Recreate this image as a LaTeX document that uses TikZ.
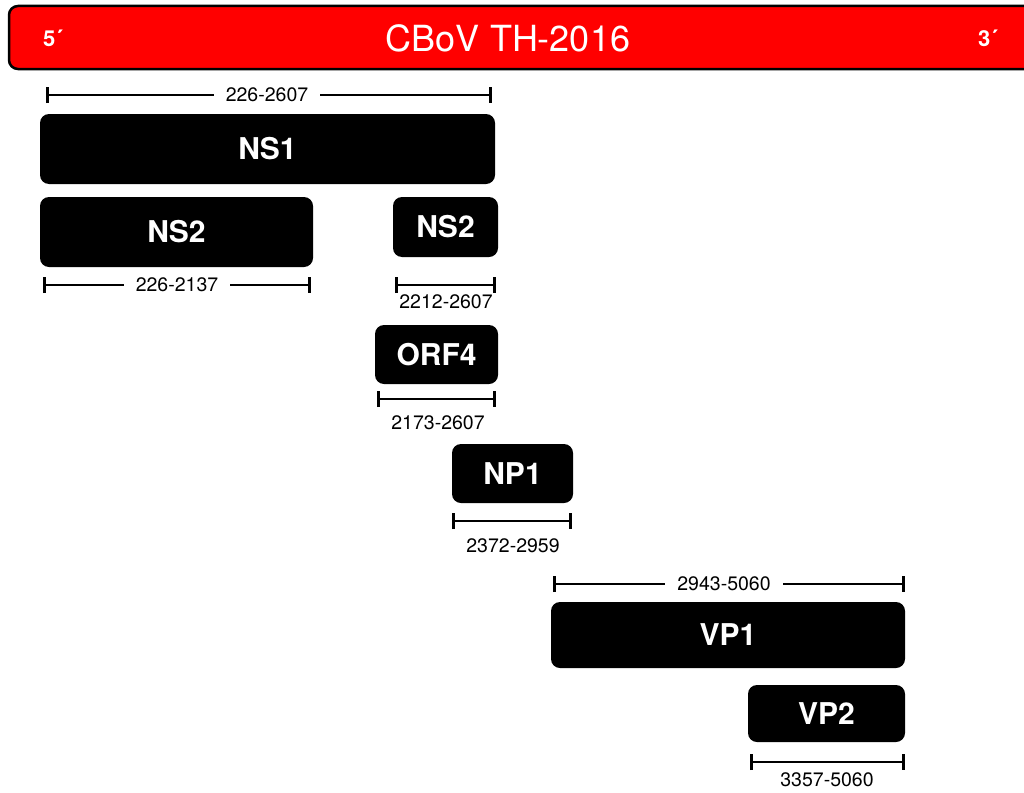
\documentclass[tikz,border=0pt]{standalone}
\usepackage{fontspec}
\setmainfont{TeX Gyre Heros}
\usetikzlibrary{arrows.meta}
\tikzset{
  genomebar/.style={draw=black, fill=red, line width=2.5pt, rounded corners=9pt, inner sep=0pt},
  endlabel/.style={text=white, font=\bfseries\fontsize{22}{22}\selectfont, inner sep=0pt},
  title/.style={text=white, font=\fontsize{36}{36}\selectfont, inner sep=0pt},
  gene/.style={fill=black, rounded corners=9pt, text=white, inner sep=0pt,
               font=\bfseries\fontsize{30}{30}\selectfont},
  span/.style={line width=2.8pt, {Bar[width=16pt,line width=2.8pt]}-{Bar[width=16pt,line width=2.8pt]}},
  coordlabel/.style={font=\fontsize{19.5}{19.5}\selectfont, inner sep=0pt},
  onspan/.style={coordlabel, fill=white, inner xsep=12pt, inner ysep=3pt},
}
\begin{document}
\begin{tikzpicture}[x=1pt, y=-1pt]
  \useasboundingbox (0,0) rectangle (1024,792);
  \clip (0,0) rectangle (1024,792);

  % genome bar
  \node[genomebar, minimum width=1051pt, minimum height=63pt] (genome) at (534.5,37.5) {};
  \node[endlabel] (five) at (53,38) {5´};
  \node[endlabel] (three) at (988,38) {3´};
  \node[title] (name) at (508,38) {CBoV TH-2016};

  % NS1
  \coordinate (ns1L) at (46,95);
  \coordinate (ns1R) at (492,95);
  \draw[span] (ns1L) -- (ns1R);
  \node[onspan] (ns1pos) at (267,95) {226-2607};
  \node[gene, minimum width=455pt, minimum height=70pt] (ns1) at (267.5,149) {NS1};

  % NS2, first exon
  \node[gene, minimum width=273pt, minimum height=70pt] (ns2a) at (176.5,232) {NS2};
  \coordinate (ns2aL) at (43,285);
  \coordinate (ns2aR) at (311,285);
  \draw[span] (ns2aL) -- (ns2aR);
  \node[onspan] (ns2apos) at (177,285) {226-2137};

  % NS2, second exon
  \node[gene, minimum width=105pt, minimum height=60pt] (ns2b) at (445.5,227) {NS2};
  \coordinate (ns2bL) at (395,285);
  \coordinate (ns2bR) at (496,285);
  \draw[span] (ns2bL) -- (ns2bR);
  \node[coordlabel] (ns2bpos) at (446,302) {2212-2607};

  % ORF4
  \node[gene, minimum width=123pt, minimum height=59pt] (orf4) at (436.5,354.5) {ORF4};
  \coordinate (orf4L) at (377,399);
  \coordinate (orf4R) at (496,399);
  \draw[span] (orf4L) -- (orf4R);
  \node[coordlabel] (orf4pos) at (438,423) {2173-2607};

  % NP1
  \node[gene, minimum width=121pt, minimum height=59pt] (np1) at (512.5,473.5) {NP1};
  \coordinate (np1L) at (452,521);
  \coordinate (np1R) at (572,521);
  \draw[span] (np1L) -- (np1R);
  \node[coordlabel] (np1pos) at (513,546) {2372-2959};

  % VP1
  \coordinate (vp1L) at (553,584);
  \coordinate (vp1R) at (905,584);
  \draw[span] (vp1L) -- (vp1R);
  \node[onspan] (vp1pos) at (724,584) {2943-5060};
  \node[gene, minimum width=354pt, minimum height=66pt] (vp1) at (728,635) {VP1};

  % VP2
  \node[gene, minimum width=157pt, minimum height=57pt] (vp2) at (826.5,713.5) {VP2};
  \coordinate (vp2L) at (750,762);
  \coordinate (vp2R) at (905,762);
  \draw[span] (vp2L) -- (vp2R);
  \node[coordlabel] (vp2pos) at (827,780) {3357-5060};
\end{tikzpicture}
\end{document}
